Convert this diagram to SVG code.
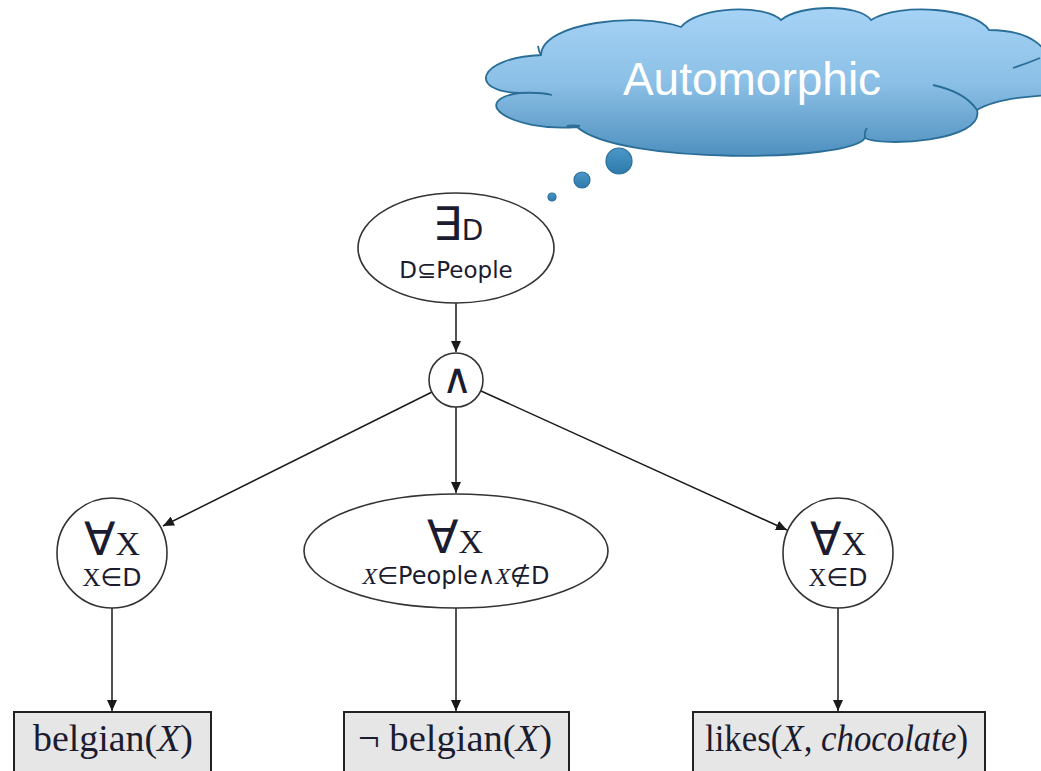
<svg xmlns="http://www.w3.org/2000/svg" width="1041" height="771" viewBox="0 0 1041 771">
<defs>
<linearGradient id="cg" x1="0" y1="0" x2="0" y2="1">
<stop offset="0" stop-color="#a6d3f6"/>
<stop offset="0.5" stop-color="#8cc0e6"/>
<stop offset="1" stop-color="#4f90bf"/>
</linearGradient>
<linearGradient id="bg" x1="0" y1="0" x2="0" y2="1">
<stop offset="0" stop-color="#4a97c8"/>
<stop offset="1" stop-color="#2f7aab"/>
</linearGradient>
<marker id="ah" markerUnits="userSpaceOnUse" markerWidth="12" markerHeight="10" refX="11" refY="5" orient="auto">
<path d="M0,0 L11,5 L0,10 Z" fill="#1a1a1a"/>
</marker>
</defs>
<style>
.node{fill:#fff;stroke:#333;stroke-width:1.6}
.box{fill:#e6e6e6;stroke:#222;stroke-width:2}
.edge{stroke:#1a1a1a;stroke-width:1.5;fill:none;marker-end:url(#ah)}
.sans{font-family:"DejaVu Sans","Liberation Sans",sans-serif;fill:#1c1c30}
.serif{font-family:"Liberation Serif","DejaVu Serif",serif;fill:#1c1c30}
.it{font-style:italic}
.cloud{fill:url(#cg);stroke:#2a6e98;stroke-width:1.8}
.inner{fill:none;stroke:#2a6e98;stroke-width:1.8}
.bub{fill:url(#bg);stroke:#2a6e98;stroke-width:1.2}
</style>

<g id="cloud">
<path class="cloud" d="M520,93 C468,92 476,58 541,55 C542,22 640,12 681,27 C698,6 765,4 781,20 C800,4 860,4 871,20 C900,2 975,8 989,30 C1030,30 1052,48 1050,70 L1050,95 C1030,96 995,99 977,110 C985,142 880,147 865,138 C850,162 620,165 577,127 C508,132 468,100 520,93 Z"/>
<path class="inner" d="M520,93 Q540,92 552,95"/>
<path class="inner" d="M538,46 Q539,52 541,55"/>
<path class="inner" d="M933,85 Q965,92 977,110"/>
<path class="inner" d="M1013,68 Q1028,63 1040,58"/>
<path class="inner" d="M865,138 Q864,132 867,128"/>
<path class="inner" d="M567,126 Q573,125 580,126"/>
<text x="752" y="95" text-anchor="middle" font-family="Liberation Sans, Arial, sans-serif" font-size="46" fill="#fff">Automorphic</text>
<circle class="bub" cx="619" cy="161" r="13"/>
<circle class="bub" cx="582" cy="180" r="8"/>
<circle class="bub" cx="552" cy="197" r="4"/>
</g>

<g id="connectors">
<line class="edge" x1="456" y1="303" x2="456" y2="352"/>
<line class="edge" x1="432" y1="392" x2="163" y2="526"/>
<line class="edge" x1="456" y1="407" x2="456" y2="493"/>
<line class="edge" x1="481" y1="391" x2="787" y2="530"/>
<line class="edge" x1="112" y1="608" x2="112" y2="711"/>
<line class="edge" x1="456" y1="608" x2="456" y2="711"/>
<line class="edge" x1="838" y1="608" x2="838" y2="711"/>
</g>

<g id="exists">
<ellipse class="node" cx="456" cy="248" rx="98" ry="55"/>
<text x="458" y="240" text-anchor="middle" class="sans"><tspan font-size="46">∃</tspan><tspan font-size="28">D</tspan></text>
<text x="456" y="278" text-anchor="middle" class="sans" font-size="23">D⊆People</text>
</g>

<g id="and">
<circle class="node" cx="456" cy="380" r="27"/>
<text x="457" y="393" text-anchor="middle" class="sans" font-size="42">∧</text>
</g>

<g id="forall-left">
<circle class="node" cx="112" cy="553" r="55"/>
<text x="112" y="555" text-anchor="middle"><tspan class="sans" font-size="46">∀</tspan><tspan class="serif" font-size="34">X</tspan></text>
<text x="112" y="586" text-anchor="middle" font-size="25"><tspan class="serif">X</tspan><tspan class="sans">∈D</tspan></text>
</g>

<g id="forall-mid">
<ellipse class="node" cx="456" cy="551" rx="152" ry="57"/>
<text x="455" y="553" text-anchor="middle"><tspan class="sans" font-size="46">∀</tspan><tspan class="serif" font-size="34">X</tspan></text>
<text x="456" y="584" text-anchor="middle" font-size="24"><tspan class="serif it">X</tspan><tspan class="sans">∈People∧</tspan><tspan class="serif it">X</tspan><tspan class="sans">∉D</tspan></text>
</g>

<g id="forall-right">
<circle class="node" cx="838" cy="553" r="55"/>
<text x="838" y="555" text-anchor="middle"><tspan class="sans" font-size="46">∀</tspan><tspan class="serif" font-size="34">X</tspan></text>
<text x="838" y="586" text-anchor="middle" font-size="25"><tspan class="serif">X</tspan><tspan class="sans">∈D</tspan></text>
</g>

<g id="box-belgian">
<rect class="box" x="14" y="712" width="197" height="70"/>
<text x="33" y="751" class="serif" font-size="37" textLength="160" lengthAdjust="spacingAndGlyphs">belgian(<tspan class="it">X</tspan>)</text>
</g>

<g id="box-notbelgian">
<rect class="box" x="344" y="712" width="225" height="70"/>
<text x="358" y="751" class="serif" font-size="37" textLength="194" lengthAdjust="spacingAndGlyphs">¬ belgian(<tspan class="it">X</tspan>)</text>
</g>

<g id="box-likes">
<rect class="box" x="693" y="712" width="292" height="70"/>
<text x="705" y="751" class="serif" font-size="37" textLength="263" lengthAdjust="spacingAndGlyphs">likes(<tspan class="it">X</tspan>, <tspan class="it">chocolate</tspan>)</text>
</g>
</svg>
